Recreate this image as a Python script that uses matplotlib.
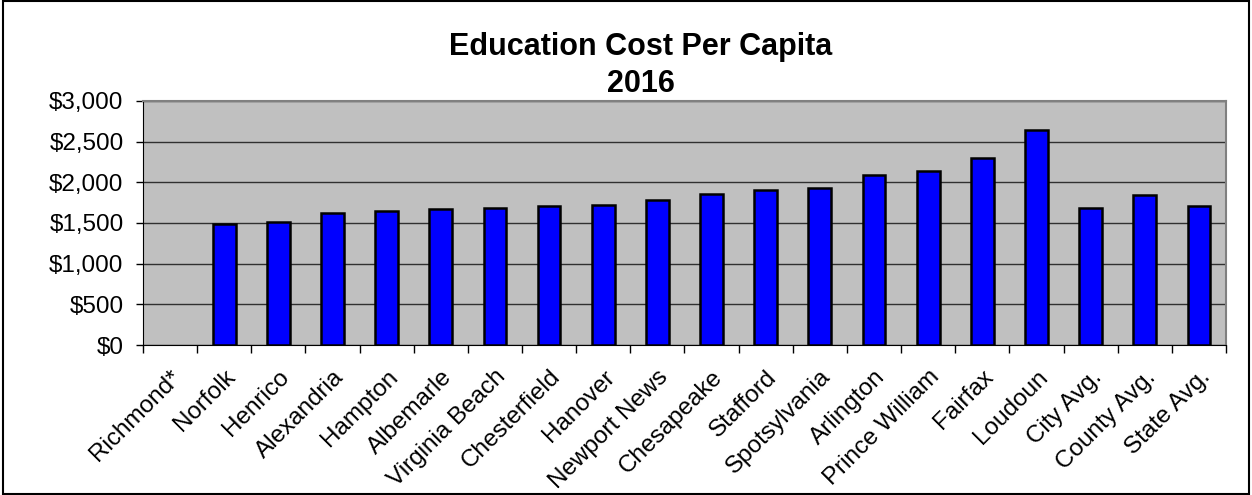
import numpy as np
import matplotlib.pyplot as plt
from matplotlib.ticker import FuncFormatter, MultipleLocator

plt.rcParams['font.family'] = ['Liberation Sans', 'DejaVu Sans']

# Education cost per capita, 2016 (Richmond* has no value shown)
localities = ['Richmond*', 'Norfolk', 'Henrico', 'Alexandria', 'Hampton',
              'Albemarle', 'Virginia Beach', 'Chesterfield', 'Hanover',
              'Newport News', 'Chesapeake', 'Stafford', 'Spotsylvania',
              'Arlington', 'Prince William', 'Fairfax', 'Loudoun',
              'City Avg.', 'County Avg.', 'State Avg.']
cost = [np.nan, 1486, 1514, 1625, 1653,
        1674, 1690, 1707, 1719,
        1784, 1858, 1911, 1928,
        2095, 2145, 2300, 2648,
        1686, 1846, 1715]

fig = plt.figure(figsize=(12.52, 4.95), dpi=100)
ax = fig.add_axes([0.1142, 0.303, 0.865, 0.493])

x = np.arange(len(localities))
ax.bar(x, cost, width=0.42, color='#0000FF', edgecolor='black', linewidth=1.8, zorder=3)

ax.set_facecolor('#C0C0C0')
ax.set_xlim(-0.5, len(localities) - 0.5)
ax.set_ylim(0, 3000)
ax.yaxis.set_major_locator(MultipleLocator(500))
ax.yaxis.set_major_formatter(FuncFormatter(lambda v, p: '${:,.0f}'.format(v)))
ax.grid(axis='y', color='#303030', linewidth=1.0, zorder=1)

ax.set_xticks(x)
ax.set_xticklabels(localities, rotation=45, ha='right', rotation_mode='anchor', fontsize=17.5)
ax.set_xticks(np.arange(-0.5, len(localities)), minor=True)
ax.tick_params(axis='x', which='major', length=0, pad=15)
ax.tick_params(axis='x', which='minor', length=6, width=1, color='black', direction='out')
ax.tick_params(axis='y', length=5, width=1, color='black', labelsize=17.5, pad=9)

for side in ['top', 'right']:
    ax.spines[side].set_color('#808080')
    ax.spines[side].set_linewidth(1.5)
ax.spines['left'].set_color('black')
ax.spines['bottom'].set_color('black')

fig.text(641 / 1252, 1 - 47 / 495, 'Education Cost Per Capita', ha='center', va='center',
         fontsize=22, fontweight='bold')
fig.text(641 / 1252, 1 - 84 / 495, '2016', ha='center', va='center',
         fontsize=22, fontweight='bold')

# outer frame round the whole chart
fig.patches.append(plt.Rectangle((0.002, 0.002), 0.996, 0.996, transform=fig.transFigure,
                                 fill=False, edgecolor='black', linewidth=1.5))

fig.savefig('out.png', dpi=100)
